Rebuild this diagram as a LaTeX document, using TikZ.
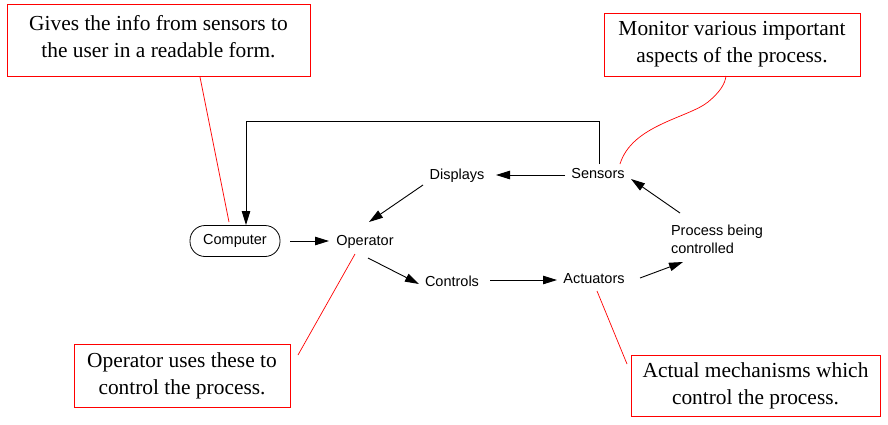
\documentclass[tikz,border=0pt]{standalone}
\usepackage{fontspec}
\setmainfont{Liberation Serif}
\setsansfont{Liberation Sans}
\usetikzlibrary{arrows.meta}
\begin{document}
\begin{tikzpicture}[x=1pt,y=-1pt,
  lbl/.style={font=\sffamily\fontsize{14.5}{18}\selectfont, inner sep=1pt},
  note/.style={draw=red, line width=0.8pt, font=\fontsize{21.4}{27}\selectfont, align=center, inner sep=0pt},
  notetext/.style={font=\fontsize{21.4}{27}\selectfont, align=center, inner sep=0pt},
  arr/.style={-{Triangle[length=14pt,width=8.5pt]}, line width=0.9pt},
  cal/.style={red, line width=0.7pt}]
\useasboundingbox (0,0) rectangle (888,424);
\fill[white] (0,0) rectangle (888,424);
% notes
\node[note, minimum width=303pt, minimum height=72pt] (n1) at (158.5,40.5) {};
\node[notetext] (n1t) at (158.5,36.5) {Gives the info from sensors to\\the user in a readable form.};
\node[note, minimum width=256pt, minimum height=63pt] (n2) at (732,44.5) {Monitor various important\\aspects of the process.};
\node[note, minimum width=216pt, minimum height=63pt] (n3) at (182,375.5) {Operator uses these to\\control the process.};
\node[note, minimum width=249pt, minimum height=61pt] (n4) at (755.5,385.5) {Actual mechanisms which\\control the process.};
% nodes
\node[lbl, draw, rounded corners=15pt, line width=0.8pt, minimum width=90pt, minimum height=31pt] (comp) at (235,241) {Computer};
\node[lbl] (op) at (365,242) {Operator};
\node[lbl] (disp) at (457,176) {Displays};
\node[lbl] (sens) at (598,174) {Sensors};
\node[lbl, align=left] (proc) at (717,239.5) {Process being\\controlled};
\node[lbl] (ctrl) at (452,281) {Controls};
\node[lbl] (act) at (594,279) {Actuators};
% coordinates
\coordinate (s1) at (565,175); \coordinate (d1) at (496,175);
\coordinate (d2) at (423,185); \coordinate (o1) at (369,222);
\coordinate (c1) at (290,241); \coordinate (o2) at (329,241);
\coordinate (o3) at (368,258); \coordinate (k1) at (419,284);
\coordinate (k2) at (490,280); \coordinate (a1) at (557,280);
\coordinate (a2) at (640,278); \coordinate (p1) at (683,262);
\coordinate (p2) at (680,213); \coordinate (s2) at (631,179);
\coordinate (s3) at (599,164); \coordinate (c2) at (246,225);
% arrows
\draw[arr] (s1) -- (d1);
\draw[arr] (d2) -- (o1);
\draw[arr] (c1) -- (o2);
\draw[arr] (o3) -- (k1);
\draw[arr] (k2) -- (a1);
\draw[arr] (a2) -- (p1);
\draw[arr] (p2) -- (s2);
\draw[arr] (s3) -- (599,121) -- (246,121) -- (c2);
% callouts
\coordinate (r1) at (229,222); \coordinate (r2) at (355,254);
\coordinate (r3) at (597,291); \coordinate (r4) at (620,164);
\draw[cal] (200,77) -- (r1);
\draw[cal] (298,355) -- (r2);
\draw[cal] (627,364) -- (r3);
\draw[cal] (r4) .. controls (632,125) and (688,118) .. (708,102) .. controls (720,92) and (725,84) .. (726,76);
\end{tikzpicture}
\end{document}
